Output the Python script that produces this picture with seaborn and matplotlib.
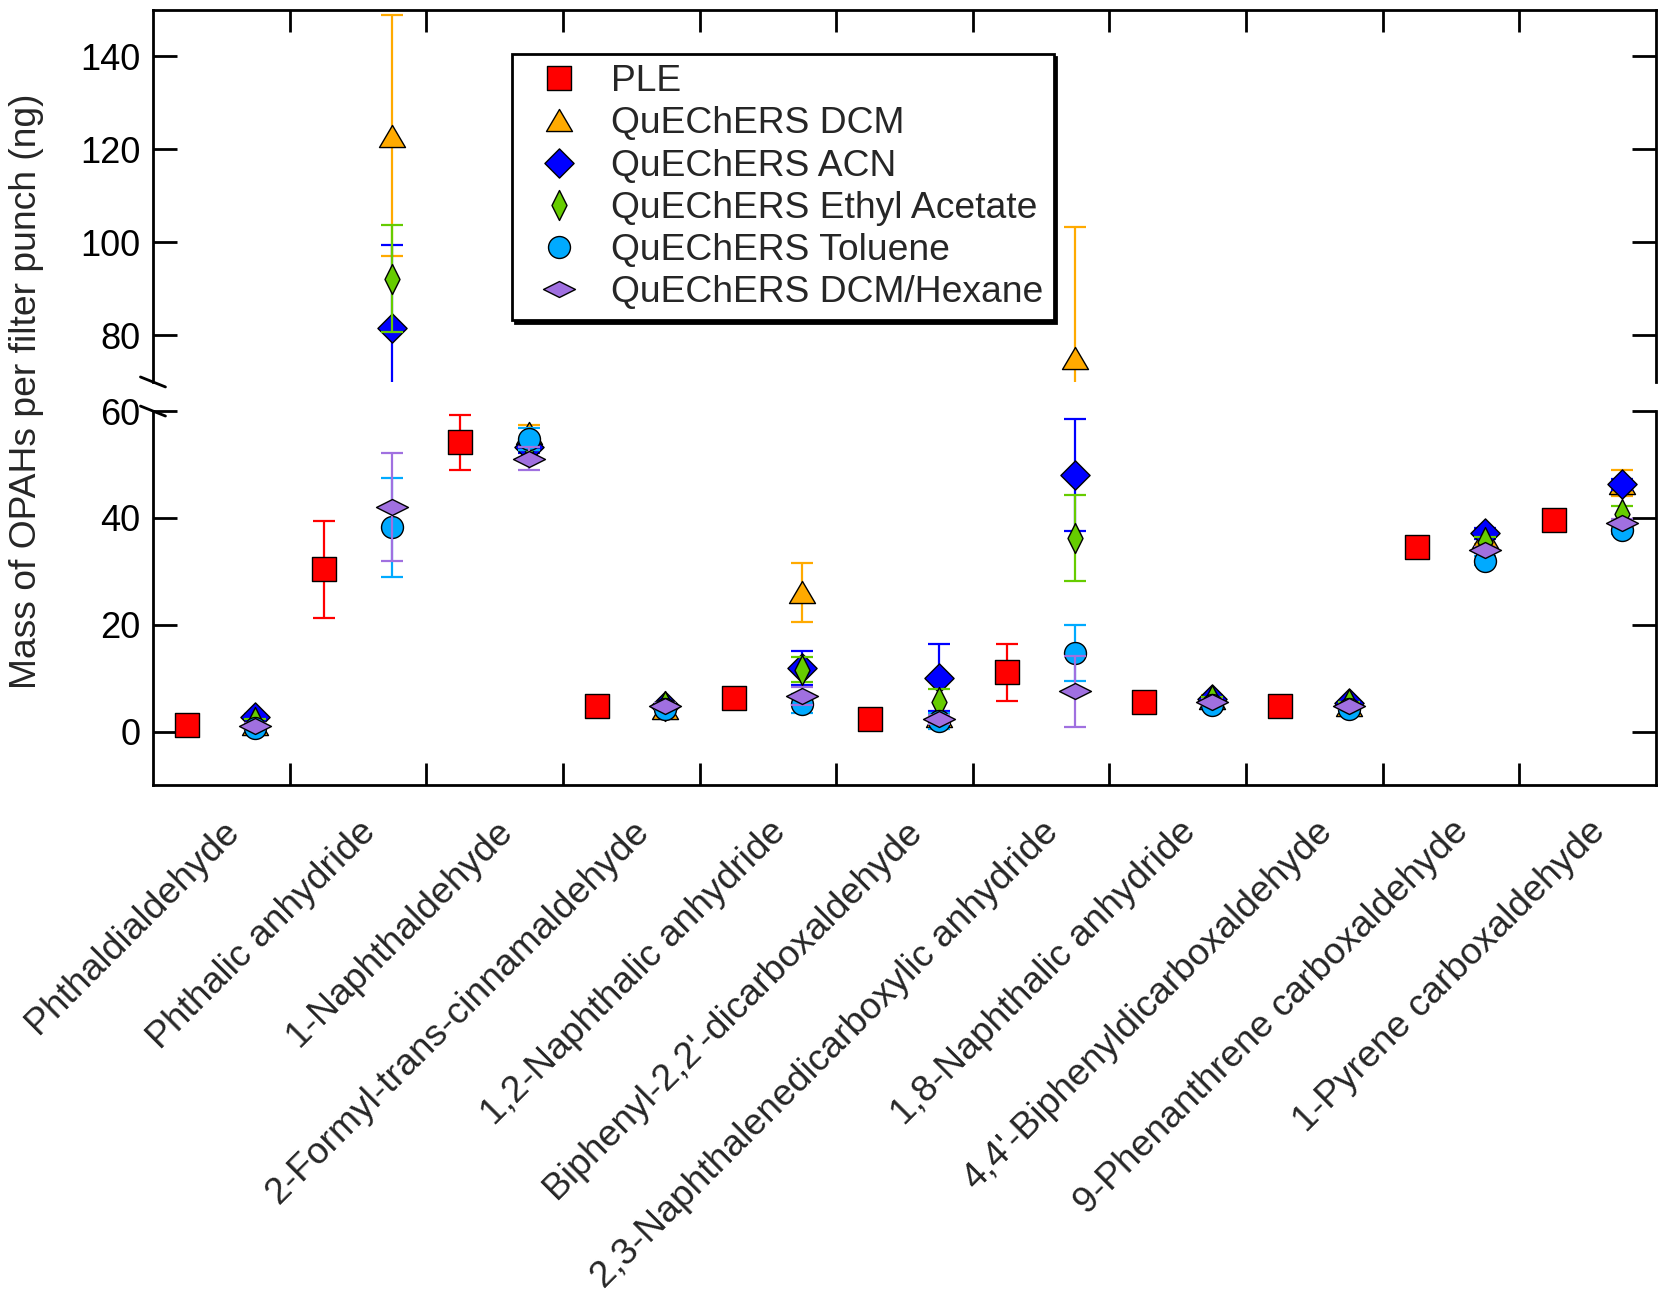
import numpy as np
import pandas as pd
import matplotlib
matplotlib.use("Agg")
import matplotlib.pyplot as plt
from matplotlib.lines import Line2D
from matplotlib.path import Path
import seaborn as sns

# ── DATA ─────────────────────────────────────────────────
compounds = ["Phthaldialdehyde", "Phthalic anhydride", "1-Naphthaldehyde",
             "2-Formyl-trans-cinnamaldehyde", "1,2-Naphthalic anhydride",
             "Biphenyl-2,2'-dicarboxaldehyde",
             "2,3-Naphthalenedicarboxylic anhydride",
             "1,8-Naphthalic anhydride", "4,4'-Biphenyldicarboxaldehyde",
             "9-Phenanthrene carboxaldehyde", "1-Pyrene carboxaldehyde"]

methods = ["PLE", "QuEChERS DCM", "QuEChERS ACN", "QuEChERS Ethyl Acetate",
           "QuEChERS Toluene", "QuEChERS DCM/Hexane"]

ple_mean = [1.3, 30.4, 54.2, 4.8, 6.25, 2.3, 11.1, 5.6, 4.7, 34.6, 39.6]
ple_err = [0.4, 9.1, 5.15, 0.5, 0.5, 0.4, 5.3, 0.4, 0.4, 0.6, 0.6]

dcm_mean = [1.5, 123.0, 55.9, 4.5, 26.1, 3.0, 75.2, 6.3, 5.0, 36.5, 46.5]
dcm_err_lo = [0.5, 26.0, 1.4, 0.5, 5.5, 0.5, 7.0, 0.5, 0.5, 1.4, 2.4]
dcm_err_hi = [0.5, 26.0, 1.4, 0.5, 5.5, 0.5, 28.2, 0.5, 0.5, 1.4, 2.4]

acn_mean = [2.7, 81.5, 53.2, 4.8, 11.9, 10.1, 48.0, 6.05, 5.3, 37.1, 46.3]
acn_err = [0.5, 18.0, 1.0, 0.5, 3.1, 6.3, 10.5, 0.5, 0.5, 1.0, 1.0]

ea_mean = [1.8, 92.2, 53.8, 4.8, 11.6, 5.6, 36.2, 6.0, 5.1, 35.5, 40.8]
ea_err = [0.5, 11.5, 1.0, 0.5, 2.35, 2.3, 8.0, 0.5, 0.5, 1.0, 1.4]

tol_mean = [0.6, 38.2, 54.8, 4.3, 5.2, 1.9, 14.7, 4.9, 4.2, 32.0, 37.8]
tol_err = [0.5, 9.2, 2.0, 0.5, 1.8, 1.5, 5.3, 0.5, 0.5, 0.8, 0.8]

dh_mean = [1.05, 42.1, 51.1, 4.8, 6.7, 2.3, 7.5, 5.55, 4.7, 34.0, 39.1]
dh_err = [0.5, 10.1, 2.2, 0.5, 1.7, 0.8, 6.7, 0.5, 0.5, 0.6, 0.6]

means = [ple_mean, dcm_mean, acn_mean, ea_mean, tol_mean, dh_mean]
errs_lo = [ple_err, dcm_err_lo, acn_err, ea_err, tol_err, dh_err]
errs_hi = [ple_err, dcm_err_hi, acn_err, ea_err, tol_err, dh_err]

colors = ["#FF0000", "#FFAA00", "#0000FF", "#66CC00", "#00AAFF", "#A070E0"]

# marker shapes (Igor-like)
sq = Path([(-1, -1), (1, -1), (1, 1), (-1, 1), (-1, -1)], closed=True)
tri = Path([(-1, -0.85), (1, -0.85), (0, 0.85), (-1, -0.85)], closed=True)
dia = Path([(0, 1), (1, 0), (0, -1), (-1, 0), (0, 1)], closed=True)
thin = Path([(0, 1), (0.5, 0), (0, -1), (-0.5, 0), (0, 1)], closed=True)
flat = Path([(0, 0.5), (1, 0), (0, -0.5), (-1, 0), (0, 0.5)], closed=True)
markers = [sq, tri, dia, thin, "o", flat]
msizes = [16.6, 18.7, 21.0, 21.6, 15.8, 23.0]

# long-form table: PLE sits left of each compound, QuEChERS right
rows = []
for k, m in enumerate(methods):
    off = -0.25 if k == 0 else 0.25
    for i in range(len(compounds)):
        rows.append({"method": m, "x": i + off, "value": means[k][i],
                     "lo": errs_lo[k][i], "hi": errs_hi[k][i]})
df = pd.DataFrame(rows)

# ── FIGURE ───────────────────────────────────────────────
sns.set_theme(style="ticks")
plt.rcParams["font.family"] = ["Liberation Sans", "DejaVu Sans"]

fig = plt.figure(figsize=(16.59, 12.93), dpi=100)
ax_top = fig.add_axes([0.0922, 0.7046, 0.9060, 0.2877])
ax_bot = fig.add_axes([0.0922, 0.3929, 0.9060, 0.2892])

for k, m in enumerate(methods):
    sub = df[df["method"] == m]
    for ax in (ax_top, ax_bot):
        ax.errorbar(sub["x"], sub["value"], yerr=[sub["lo"], sub["hi"]],
                    fmt="none", ecolor=colors[k], elinewidth=1.6,
                    capsize=8, capthick=1.6, zorder=2 + 2 * k)
        sns.scatterplot(data=sub, x="x", y="value", ax=ax, marker=markers[k],
                        s=msizes[k] ** 2, color=colors[k], edgecolor="black",
                        linewidth=1.0, zorder=3 + 2 * k, legend=False)

ax_top.set_ylim(70, 150)
ax_bot.set_ylim(-10, 60)
for ax in (ax_top, ax_bot):
    ax.set_xlim(-0.5, 10.5)
    ax.set_xlabel("")
    ax.set_ylabel("")
    for s in ax.spines.values():
        s.set_linewidth(2.0)
        s.set_color("black")
    ax.set_xticks(np.arange(0.5, 10, 1.0), minor=True)
    ax.tick_params(axis="y", which="major", direction="in", length=17,
                   width=2, left=True, right=True, labelsize=26, pad=9,
                   colors="black")
    ax.tick_params(axis="x", which="minor", direction="in", length=16,
                   width=2, colors="black")

ax_top.set_yticks([80, 100, 120, 140])
ax_bot.set_yticks([0, 20, 40, 60])

ax_top.spines["bottom"].set_visible(False)
ax_bot.spines["top"].set_visible(False)
ax_top.set_xticks([])
ax_top.tick_params(axis="x", which="minor", top=True, bottom=False)
ax_bot.tick_params(axis="x", which="minor", top=False, bottom=True)

ax_bot.set_xticks(range(len(compounds)))
ax_bot.set_xticklabels(compounds, rotation=45, ha="right", va="top",
                       rotation_mode="anchor", fontsize=26.8)
ax_bot.tick_params(axis="x", which="major", length=0, pad=21)

# axis-break slashes on the left spine
W, H = fig.get_size_inches() * fig.dpi
for ax, ypos in ((ax_top, 0.0), (ax_bot, 1.0)):
    bb = ax.get_position()
    dx = 12.5 / (bb.width * W)
    dy = 5.0 / (bb.height * H)
    ax.plot([-dx, dx], [ypos + dy, ypos - dy], transform=ax.transAxes,
            color="black", lw=2.0, clip_on=False, zorder=30)

fig.text(27 / 1659, 0.6976, "Mass of OPAHs per filter punch (ng)",
         rotation=90, ha="center", va="center", fontsize=26.8)

handles = [Line2D([], [], ls="none", marker=markers[k], ms=msizes[k],
                  mfc=colors[k], mec="black", mew=1.0)
           for k in range(len(methods))]
leg = ax_top.legend(handles, methods, loc="upper left",
                    bbox_to_anchor=(512 / 1659, 1 - 54 / 1293),
                    bbox_transform=fig.transFigure, borderaxespad=0,
                    fontsize=26.8, frameon=True, fancybox=False,
                    shadow={"color": "black", "alpha": 1.0},
                    handlelength=1.99, handletextpad=0.39, borderpad=0.28,
                    labelspacing=0.19)
leg.get_frame().set_edgecolor("black")
leg.get_frame().set_linewidth(2.0)
leg.set_zorder(50)

fig.savefig("out.png", dpi=100)
